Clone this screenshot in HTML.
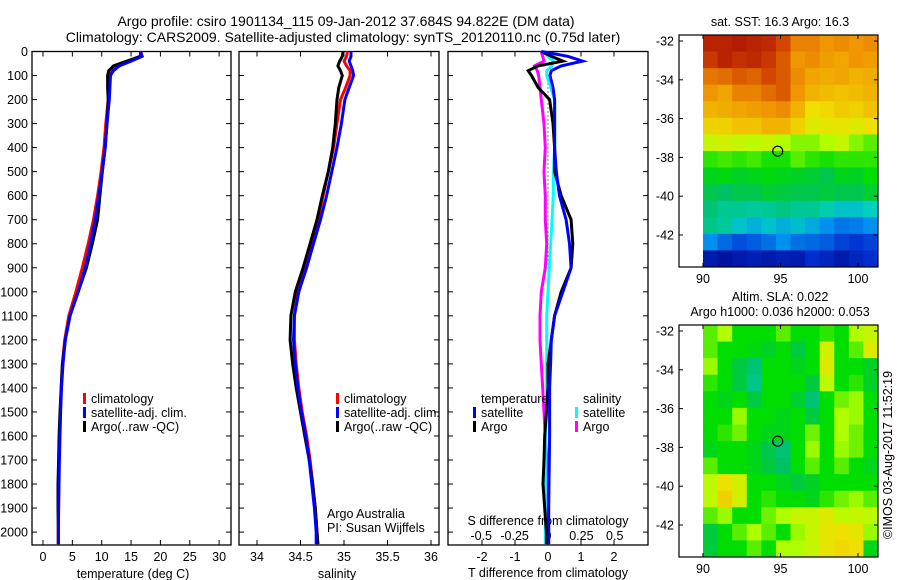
<!DOCTYPE html>
<html><head><meta charset="utf-8"><style>
body{margin:0;background:#fff}
svg{display:block;font-family:"Liberation Sans",sans-serif;font-size:12.5px}
</style></head><body>
<svg id="fig" width="900" height="580" viewBox="0 0 900 580" xmlns="http://www.w3.org/2000/svg">
<rect width="900" height="580" fill="#fff"/>
<text x="346" y="26" text-anchor="middle" font-size="14">Argo profile: csiro 1901134_115 09-Jan-2012 37.684S 94.822E (DM data)</text>
<text x="343" y="42" text-anchor="middle" font-size="14">Climatology: CARS2009. Satellite-adjusted climatology: synTS_20120110.nc (0.75d later)</text>
<g id="g"></g>
</svg>
<script>
// ---- data ----
const depths = [0,20,40,60,80,100,150,200,300,400,500,600,700,800,900,1000,1100,1200,1300,1400,1500,1600,1700,1800,1900,2000,2050];
const tempClim = [16.8,16.5,14.5,12.5,11.7,11.4,11.2,11.1,10.7,10.4,9.9,9.3,8.6,7.7,6.7,5.6,4.4,3.7,3.3,3.1,2.95,2.85,2.75,2.7,2.65,2.6,2.6];
const tempSat  = [16.6,16.9,15.0,13.0,12.0,11.5,11.4,11.3,10.9,10.6,10.1,9.5,8.9,8.1,7.2,6.0,4.6,3.8,3.4,3.15,3.0,2.9,2.8,2.72,2.66,2.62,2.62];
const tempArgo = [16.6,16.7,14.3,12.0,11.2,11.0,11.0,11.1,10.9,10.6,10.1,9.7,9.3,8.4,7.4,6.0,4.6,3.8,3.3,3.1,2.9,2.75,2.65,2.55,2.55,2.6,2.6];
const salClim = [35.04,35.03,35.0,35.03,35.07,35.07,35.02,34.96,34.92,34.88,34.82,34.76,34.7,34.62,34.55,34.47,34.43,34.43,34.45,34.48,34.52,34.57,34.61,34.64,34.67,34.69,34.7];
const salSat  = [35.08,35.08,35.06,35.08,35.1,35.11,35.06,35.01,34.97,34.92,34.86,34.8,34.73,34.65,34.57,34.48,34.43,34.42,34.44,34.47,34.51,34.56,34.6,34.63,34.66,34.68,34.68];
const salArgo = [34.99,34.98,34.95,34.93,34.96,34.98,34.94,34.92,34.9,34.87,34.82,34.75,34.69,34.61,34.53,34.44,34.39,34.38,34.41,34.45,34.5,34.55,34.6,34.64,34.67,34.69,34.7];
const dTsat  = [-0.2,0.6,1.05,0.4,0.1,0.06,0.15,0.2,0.2,0.2,0.25,0.35,0.55,0.65,0.7,0.45,0.2,0.1,0.08,0.05,0.05,0.05,0.04,0.03,0.02,0.02,0.02];
const dTargo = [-0.2,0.1,0.45,-0.3,-0.6,-0.5,-0.3,0.05,0.15,0.2,0.2,0.4,0.7,0.75,0.7,0.4,0.2,0.1,0.0,0.0,-0.05,-0.1,-0.12,-0.15,-0.1,-0.05,-0.05];
const dSsat  = [-0.03,0.0,0.04,0.03,-0.01,-0.01,0.02,0.05,0.05,0.05,0.04,0.04,0.03,0.02,0.01,0.0,-0.01,-0.01,-0.01,-0.01,-0.01,-0.02,-0.02,-0.02,-0.02,-0.02,-0.02];
const dSargo = [-0.05,-0.04,-0.03,-0.1,-0.08,-0.07,-0.06,-0.05,-0.03,-0.02,-0.03,-0.02,-0.02,-0.01,-0.02,-0.05,-0.06,-0.06,-0.05,-0.04,-0.03,-0.02,-0.01,0.0,0.0,0.0,0.0];
const depthTicks = [0,100,200,300,400,500,600,700,800,900,1000,1100,1200,1300,1400,1500,1600,1700,1800,1900,2000];
const tempTicks = [0,5,10,15,20,25,30];
const salTicks = [34,34.5,35,35.5,36];
const salTickLabels = ["34","34.5","35","35.5","36"];
const dTTicks = [-2,-1,0,1,2];
const dSTicks = [-0.5,-0.25,0,0.25,0.5];
const dSTickLabels = ["-0.5","-0.25","0","0.25","0.5"];
const mapLonTicks = [90,95,100];
const mapLatTicks = [-32,-34,-36,-38,-40,-42];
// SST map (colour scale 0..1), 12 cols x 14 rows, north to south
const sstGrid = [
[0.95,0.95,0.96,0.95,0.94,0.9,0.84,0.84,0.82,0.83,0.82,0.83],
[0.92,0.95,0.93,0.94,0.92,0.88,0.82,0.83,0.81,0.8,0.82,0.81],
[0.85,0.86,0.88,0.87,0.9,0.88,0.83,0.8,0.79,0.8,0.78,0.79],
[0.82,0.8,0.84,0.84,0.86,0.88,0.82,0.78,0.77,0.76,0.77,0.78],
[0.78,0.79,0.8,0.81,0.82,0.83,0.78,0.72,0.73,0.75,0.74,0.76],
[0.74,0.74,0.76,0.76,0.78,0.78,0.74,0.7,0.71,0.71,0.7,0.72],
[0.68,0.69,0.68,0.67,0.68,0.66,0.64,0.64,0.66,0.68,0.64,0.62],
[0.6,0.61,0.6,0.61,0.59,0.59,0.62,0.6,0.59,0.6,0.6,0.6],
[0.56,0.57,0.55,0.56,0.57,0.56,0.55,0.54,0.52,0.56,0.55,0.58],
[0.52,0.5,0.52,0.52,0.54,0.53,0.52,0.52,0.53,0.52,0.52,0.54],
[0.48,0.45,0.45,0.44,0.45,0.47,0.45,0.45,0.42,0.38,0.38,0.4],
[0.46,0.44,0.38,0.35,0.38,0.35,0.37,0.34,0.3,0.26,0.27,0.3],
[0.3,0.24,0.2,0.22,0.25,0.3,0.25,0.24,0.22,0.18,0.16,0.18],
[0.08,0.06,0.08,0.1,0.08,0.1,0.09,0.14,0.12,0.08,0.12,0.14]
];
const slaGrid = [
[0.62,0.66,0.58,0.58,0.58,0.62,0.58,0.58,0.6,0.58,0.66,0.68],
[0.62,0.58,0.58,0.57,0.55,0.58,0.53,0.58,0.69,0.58,0.62,0.7],
[0.65,0.58,0.53,0.48,0.58,0.58,0.56,0.58,0.7,0.58,0.58,0.55],
[0.6,0.58,0.53,0.46,0.58,0.58,0.58,0.53,0.67,0.58,0.6,0.55],
[0.58,0.56,0.58,0.53,0.58,0.58,0.54,0.48,0.58,0.63,0.65,0.58],
[0.58,0.58,0.65,0.58,0.58,0.56,0.58,0.53,0.58,0.66,0.65,0.58],
[0.58,0.6,0.63,0.58,0.56,0.56,0.58,0.63,0.58,0.66,0.63,0.58],
[0.56,0.58,0.58,0.56,0.52,0.48,0.58,0.65,0.58,0.65,0.63,0.58],
[0.62,0.58,0.58,0.56,0.53,0.5,0.58,0.62,0.58,0.62,0.58,0.56],
[0.67,0.72,0.69,0.58,0.58,0.56,0.53,0.55,0.58,0.58,0.58,0.58],
[0.67,0.74,0.69,0.58,0.6,0.58,0.58,0.56,0.6,0.63,0.65,0.62],
[0.62,0.65,0.58,0.58,0.63,0.66,0.68,0.68,0.7,0.67,0.68,0.67],
[0.53,0.58,0.62,0.66,0.62,0.58,0.65,0.68,0.71,0.72,0.71,0.65],
[0.53,0.58,0.58,0.62,0.58,0.66,0.66,0.68,0.71,0.73,0.72,0.56]
];
const argoLon = 94.82, argoLat = -37.68;

// ---- helpers ----
const NS="http://www.w3.org/2000/svg";
const G=document.getElementById('g');
function mk(tag,attrs,parent){const e=document.createElementNS(NS,tag);for(const k in attrs)e.setAttribute(k,attrs[k]);(parent||G).appendChild(e);return e;}
function txt(x,y,s,anchor,name,extra){const t=mk('text',Object.assign({x:x,y:y,'text-anchor':anchor||'start'},extra||{}));t.textContent=s;


return t;}
const yTop=51.5, yBot=545;
const yD = d => 51.5 + d*0.2403;
const panels=[{x0:32,x1:231},{x0:239,x1:439},{x0:448,x1:648}];
const xT = v => 43 + v*5.87;
const xS = v => 257 + (v-34)*87;
const xDT = v => 548 + v*33;
const xDS = v => 548 + v*133.5;

function frame(p,name){const r=mk('rect',{x:p.x0,y:yTop,width:p.x1-p.x0,height:yBot-yTop,fill:'none',stroke:'#000','stroke-width':1.3});


}
panels.forEach((p,i)=>frame(p,'panel-frame-'+(i+1)));
depthTicks.forEach(d=>{const y=yD(d);
 panels.forEach(p=>{mk('line',{x1:p.x0,x2:p.x0+5,y1:y,y2:y,stroke:'#000'});mk('line',{x1:p.x1-5,x2:p.x1,y1:y,y2:y,stroke:'#000'});});
 txt(28,y+4.5,String(d),'end','depth-tick-label');
});
function xticks(ticks,labels,fx,name,top,bottom,ly){ticks.forEach((v,i)=>{const x=fx(v);
 if(bottom)mk('line',{x1:x,x2:x,y1:yBot-5,y2:yBot,stroke:'#000'});
 if(top)mk('line',{x1:x,x2:x,y1:yTop,y2:yTop+5,stroke:'#000'});
 txt(x,ly,labels[i],'middle',name);});}
xticks(tempTicks,tempTicks.map(String),xT,'temperature-tick-label',true,true,561);
xticks(salTicks,salTickLabels,xS,'salinity-tick-label',true,true,561);
xticks(dTTicks,dTTicks.map(String),xDT,'t-diff-tick-label',true,true,561);
xticks(dSTicks,dSTickLabels,xDS,'s-diff-tick-label',false,false,540);
txt(133,578,'temperature (deg C)','middle','x-axis-title-temperature');
txt(337,578,'salinity','middle','x-axis-title-salinity');
txt(548,577,'T difference from climatology','middle','x-axis-title-t-diff');
txt(548,525,'S difference from climatology','middle','x-axis-title-s-diff');

function line(vals,fx,color,name,w){const pts=[];depths.forEach((d,i)=>pts.push(fx(vals[i]).toFixed(1)+','+yD(d).toFixed(1)));
 const l=mk('polyline',{points:pts.join(' '),fill:'none',stroke:color,'stroke-width':w||3,'stroke-linejoin':'miter'});
 
 
}
line(tempClim,xT,'#f00','temp-climatology-line');
line(tempArgo,xT,'#000','temp-argo-line');
line(tempSat,xT,'#00f','temp-satellite-line');
line(salClim,xS,'#f00','salinity-climatology-line');
line(salArgo,xS,'#000','salinity-argo-line');
line(salSat,xS,'#00f','salinity-satellite-line');
mk('line',{x1:548,x2:548,y1:yD(100),y2:yD(1100),stroke:'#000','stroke-dasharray':'1,3'});
line(dSargo,xDS,'#f0f','s-diff-argo-line');
line(dSsat,xDS,'#0ff','s-diff-satellite-line');
line(dTargo,xDT,'#000','t-diff-argo-line');
line(dTsat,xDT,'#00f','t-diff-satellite-line');

function legItem(x,y,color,label,name){mk('rect',{x:x,y:y-9,width:3,height:11,fill:color});txt(x+8,y+1,label,'start',name);}
[[83],[336]].forEach((a,i)=>{const x=a[0];
 legItem(x,402,'#f00','climatology','legend-climatology');
 legItem(x,416,'#00f','satellite-adj. clim.','legend-satellite-adj');
 legItem(x,430,'#000','Argo(..raw -QC)','legend-argo');});
txt(481,403,'temperature','start','legend-title-temperature');
legItem(473,416,'#00f','satellite','legend-t-satellite');
legItem(473,430,'#000','Argo','legend-t-argo');
txt(583,403,'salinity','start','legend-title-salinity');
legItem(575,416,'#0ff','satellite','legend-s-satellite');
legItem(575,430,'#f0f','Argo','legend-s-argo');
txt(327,518,'Argo Australia','start','credit-argo-australia');
txt(327,532,'PI: Susan Wijffels','start','credit-pi');

// ---- maps ----
const cmStops=[[0,[0,0,128]],[0.15,[0,48,208]],[0.3,[0,144,240]],[0.4,[0,208,192]],[0.5,[0,192,100]],[0.58,[0,221,0]],[0.66,[176,255,0]],[0.72,[240,224,0]],[0.82,[240,150,0]],[0.9,[210,70,0]],[1,[160,0,0]]];
function cmap(v){v=Math.max(0,Math.min(1,v));for(let i=1;i<cmStops.length;i++){if(v<=cmStops[i][0]){const a=cmStops[i-1],b=cmStops[i],t=(v-a[0])/(b[0]-a[0]);
 return 'rgb('+a[1].map((c,k)=>Math.round(c+(b[1][k]-c)*t)).join(',')+')';}}return 'rgb(160,0,0)';}
const mx0=679,mx1=878;
const lonX = lon => 703 + (lon-90)*15.5;
function drawMap(y0,grid,name){
 const latY = lat => y0+6 + (-32-lat)*19.4;
 const yTopM=y0, yBotM=y0+232;
 const gx0=lonX(90), gx1=mx1, rows=grid.length, cols=grid[0].length;
 const cw=(gx1-gx0)/cols, ch=(yBotM-yTopM)/rows;
 grid.forEach((row,r)=>row.forEach((v,c)=>{const cell=mk('rect',{x:gx0+c*cw,y:yTopM+r*ch,width:cw+0.5,height:ch+0.5,fill:cmap(v)});
  
  }));
 const fr=mk('rect',{x:mx0,y:yTopM,width:mx1-mx0,height:yBotM-yTopM,fill:'none',stroke:'#000','stroke-width':1.2});
 
 
 mapLonTicks.forEach(l=>{const x=lonX(l);mk('line',{x1:x,x2:x,y1:yTopM,y2:yTopM+4,stroke:'#000'});mk('line',{x1:x,x2:x,y1:yBotM-4,y2:yBotM,stroke:'#000'});
  txt(x,yBotM+16,String(l),'middle',name+'-lon-label');});
 mapLatTicks.forEach(l=>{const y=latY(l);mk('line',{x1:mx0,x2:mx0+4,y1:y,y2:y,stroke:'#000'});mk('line',{x1:mx1-4,x2:mx1,y1:y,y2:y,stroke:'#000'});
  txt(674,y+4.5,String(l),'end',name+'-lat-label');});
 const c=mk('circle',{cx:lonX(argoLon),cy:latY(argoLat),r:5,fill:'none',stroke:'#000','stroke-width':1.2});
 
 
}
drawMap(35,sstGrid,'sst-map');
drawMap(325,slaGrid,'sla-map');
txt(780,26,'sat. SST: 16.3 Argo: 16.3','middle','sst-map-title');
txt(780,301,'Altim. SLA: 0.022','middle','sla-map-title');
txt(780,316,'Argo h1000: 0.036 h2000: 0.053','middle','sla-map-subtitle');
txt(0,0,'©IMOS 03-Aug-2017 11:52:19','middle','timestamp',{transform:'translate(892,455) rotate(-90)'});
</script>
</body></html>
